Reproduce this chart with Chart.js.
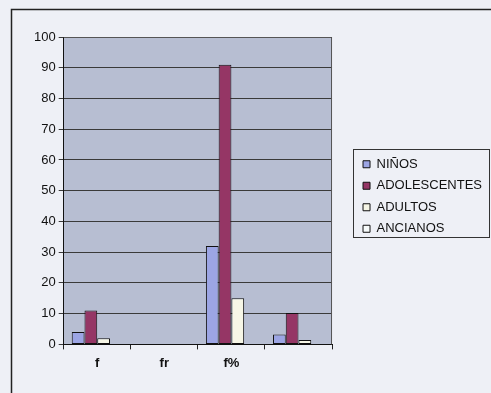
<!DOCTYPE html>
<html>
<head>
<meta charset="utf-8">
<script src="https://cdn.jsdelivr.net/npm/chart.js@4/dist/chart.umd.min.js"></script>
<style>
  html, body { margin: 0; padding: 0; background: #eef0f6; }
  canvas { display: block; }
</style>
</head>
<body>
<canvas id="edadesChart" width="491" height="393"></canvas>
<script>
// Datos
const categorias = ['f', 'fr', 'f%', ''];
const ninos        = [4,  0, 32,  3.2];
const adolescentes = [11, 0, 91, 10.2];
const adultos      = [2,  0, 15,  1.4];
const ancianos     = [0,  0,  0,  0];
const yTicks = [0, 10, 20, 30, 40, 50, 60, 70, 80, 90, 100];

const fuente = "'Liberation Sans', Arial, sans-serif";

// Fondo, marco exterior, fondo del area de trazado y marco de la leyenda
const marcos = {
    id: 'marcos',
    beforeDraw(chart) {
        const {ctx, width, height, chartArea: a} = chart;
        ctx.save();
        ctx.fillStyle = '#eef0f6';
        ctx.fillRect(0, 0, width, height);
        ctx.strokeStyle = '#222';
        ctx.lineWidth = 1.5;
        ctx.beginPath();
        ctx.moveTo(width + 2, 9.5);
        ctx.lineTo(11.5, 9.5);
        ctx.lineTo(11.5, height + 2);
        ctx.stroke();
        ctx.fillStyle = '#b7bed2';
        ctx.fillRect(a.left, a.top, a.right - a.left, a.bottom - a.top);
        ctx.restore();
    },
    afterDraw(chart) {
        const {ctx, chartArea: a} = chart;
        ctx.save();
        ctx.strokeStyle = '#555';
        ctx.lineWidth = 1;
        ctx.beginPath();
        ctx.moveTo(a.left, a.top + 0.5);
        ctx.lineTo(a.right - 0.5, a.top + 0.5);
        ctx.lineTo(a.right - 0.5, a.bottom);
        ctx.stroke();
        const hb = chart.legend.legendHitBoxes;
        if (hb && hb.length) {
            const x0 = Math.round(hb[0].left - 10) + 0.5;
            const y0 = Math.round(hb[0].top - 9) + 0.5;
            const y1 = Math.round(hb[hb.length - 1].top + hb[hb.length - 1].height + 2) + 0.5;
            ctx.strokeStyle = '#333';
            ctx.strokeRect(x0, y0, chart.width - 1.5 - x0, y1 - y0);
        }
        ctx.restore();
    }
};

const serie = (label, data, color) => ({
    label, data,
    backgroundColor: color,
    borderColor: '#111',
    borderWidth: 1,
    borderSkipped: false,
    categoryPercentage: 0.76,
    barPercentage: 1.0
});

new Chart(document.getElementById('edadesChart'), {
    type: 'bar',
    data: {
        labels: categorias,
        datasets: [
            serie('NIÑOS', ninos, '#9ca5e4'),
            serie('ADOLESCENTES', adolescentes, '#953665'),
            serie('ADULTOS', adultos, '#f6f6e6'),
            serie('ANCIANOS', ancianos, '#f6fafa')
        ]
    },
    options: {
        responsive: false,
        animation: false,
        layout: { padding: { left: 31, top: 37, right: -1, bottom: 16 } },
        plugins: {
            legend: {
                position: 'right',
                fullSize: false,
                maxWidth: 200,
                // titulo vacio: solo baja un poco las entradas
                title: { display: true, text: '', font: { size: 8 }, padding: 1 },
                labels: {
                    boxWidth: 7, boxHeight: 7, padding: 8.5,
                    color: '#111',
                    font: { family: fuente, size: 13 }
                }
            },
            tooltip: { enabled: false }
        },
        scales: {
            x: {
                grid: { offset: true, drawOnChartArea: false, color: '#222', tickLength: 5 },
                border: { color: '#111', width: 1 },
                ticks: { color: '#111', padding: 6, font: { family: fuente, size: 13, weight: 'bold' } }
            },
            y: {
                min: 0, max: 100,
                afterBuildTicks: s => { s.ticks = yTicks.map(v => ({ value: v })); },
                grid: { color: '#3a3a3a', tickLength: 5 },
                border: { color: '#111', width: 1 },
                ticks: { color: '#111', padding: 3, font: { family: fuente, size: 13 } }
            },
            // separa el area de trazado de la leyenda
            hueco: {
                type: 'linear', position: 'right', display: true,
                grid: { display: false }, border: { display: false },
                ticks: { display: false },
                afterFit: s => { s.width = 22.5; }
            }
        }
    },
    plugins: [marcos]
});
</script>
</body>
</html>
